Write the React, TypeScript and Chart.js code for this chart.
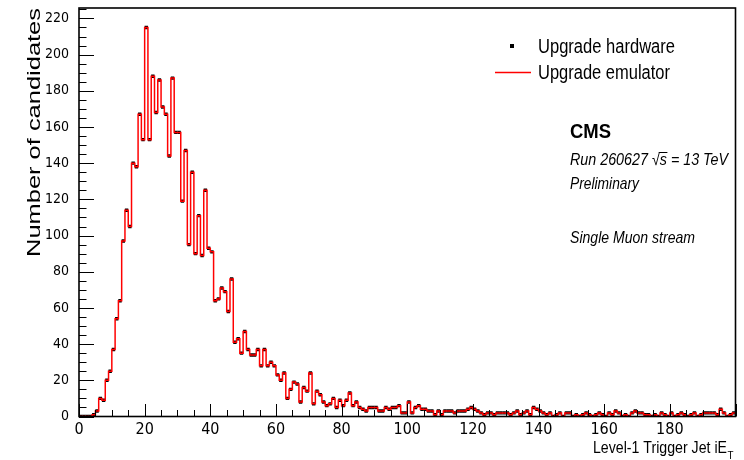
import React, { useEffect, useRef } from 'react';
import { Chart, registerables } from 'chart.js';

Chart.register(...registerables);

// Histogram binning: 200 bins of width 1 from 0 to 200 (Level-1 Trigger Jet iE_T)
const binStart = 0;
const binWidth = 1;

// Upgrade hardware counts per bin (bins 0..199)
const hardwareCounts: number[] = [
  0, 0, 0, 0, 1, 3, 10, 9, 20, 25, 37, 54, 64, 97, 114, 105, 140, 138, 167, 153,
  215, 153, 188, 168, 186, 171, 167, 144, 187, 157, 157, 119, 147, 95, 135, 90, 111, 89, 125, 93,
  91, 64, 65, 71, 69, 58, 76, 41, 43, 35, 47, 37, 34, 34, 37, 28, 37, 28, 30, 28,
  23, 20, 24, 10, 15, 19, 18, 8, 16, 14, 24, 7, 14, 12, 8, 6, 7, 10, 5, 9,
  6, 9, 13, 6, 8, 5, 4, 3, 5, 5, 5, 3, 3, 5, 4, 5, 5, 6, 2, 2,
  8, 2, 5, 6, 4, 4, 3, 3, 1, 3, 1, 3, 3, 3, 2, 3, 3, 3, 4, 5,
  4, 3, 2, 1, 2, 2, 1, 2, 2, 2, 2, 1, 2, 3, 1, 2, 3, 1, 5, 4,
  3, 2, 1, 2, 0, 1, 2, 0, 2, 2, 0, 1, 0, 1, 2, 1, 0, 1, 2, 1,
  0, 2, 1, 3, 2, 0, 1, 0, 2, 3, 2, 2, 1, 1, 0, 1, 0, 2, 1, 0,
  2, 0, 1, 2, 1, 0, 1, 2, 0, 1, 2, 2, 2, 2, 1, 4, 2, 0, 1, 2,
];

// Upgrade emulator counts per bin (agree bin-by-bin with the hardware)
const emulatorCounts: number[] = [
  0, 0, 0, 0, 1, 3, 10, 9, 20, 25, 37, 54, 64, 97, 114, 105, 140, 138, 167, 153,
  215, 153, 188, 168, 186, 171, 167, 144, 187, 157, 157, 119, 147, 95, 135, 90, 111, 89, 125, 93,
  91, 64, 65, 71, 69, 58, 76, 41, 43, 35, 47, 37, 34, 34, 37, 28, 37, 28, 30, 28,
  23, 20, 24, 10, 15, 19, 18, 8, 16, 14, 24, 7, 14, 12, 8, 6, 7, 10, 5, 9,
  6, 9, 13, 6, 8, 5, 4, 3, 5, 5, 5, 3, 3, 5, 4, 5, 5, 6, 2, 2,
  8, 2, 5, 6, 4, 4, 3, 3, 1, 3, 1, 3, 3, 3, 2, 3, 3, 3, 4, 5,
  4, 3, 2, 1, 2, 2, 1, 2, 2, 2, 2, 1, 2, 3, 1, 2, 3, 1, 5, 4,
  3, 2, 1, 2, 0, 1, 2, 0, 2, 2, 0, 1, 0, 1, 2, 1, 0, 1, 2, 1,
  0, 2, 1, 3, 2, 0, 1, 0, 2, 3, 2, 2, 1, 1, 0, 1, 0, 2, 1, 0,
  2, 0, 1, 2, 1, 0, 1, 2, 0, 1, 2, 2, 2, 2, 1, 4, 2, 0, 1, 2,
];

const xTickValues = [0, 20, 40, 60, 80, 100, 120, 140, 160, 180];
const yTickValues = [0, 20, 40, 60, 80, 100, 120, 140, 160, 180, 200, 220];
const xMin = 0;
const xMax = 200;
const yMin = 0;
const yMax = 225.75;
const xMinorStep = 5;
const xMajorStep = 20;
const yMinorStep = 5;
const yMajorStep = 20;

const FONT = "'Liberation Sans', Arial, Helvetica, sans-serif";
const NARROW = "'Liberation Sans Narrow', 'DejaVu Sans Condensed', 'Liberation Sans', Arial, sans-serif";

function drawFitted(
  ctx: CanvasRenderingContext2D,
  text: string,
  x: number,
  y: number,
  font: string,
  width: number,
  rotate = 0
) {
  ctx.save();
  ctx.translate(x, y);
  if (rotate) ctx.rotate(rotate);
  ctx.font = font;
  ctx.textAlign = 'left';
  ctx.textBaseline = 'alphabetic';
  const w = ctx.measureText(text).width;
  const k = width / w;
  ctx.scale(k, 1);
  ctx.fillStyle = '#000';
  ctx.fillText(text, 0, 0);
  ctx.restore();
  return k;
}

const decorPlugin = {
  id: 'rootDecor',
  afterDraw(chart: any) {
    const { ctx, chartArea: a, scales } = chart;
    const xs = scales.x;
    const ys = scales.y;
    ctx.save();
    // inward ticks
    ctx.strokeStyle = '#000';
    ctx.lineWidth = 1;
    ctx.beginPath();
    for (let v = yMin; v <= yMax; v += yMinorStep) {
      const p = Math.round(ys.getPixelForValue(v)) + 0.5;
      const len = v % yMajorStep === 0 ? 15 : 7.5;
      ctx.moveTo(a.left, p);
      ctx.lineTo(a.left + len, p);
    }
    for (let v = xMin; v <= xMax; v += xMinorStep) {
      const p = Math.round(xs.getPixelForValue(v)) + 0.5;
      const len = v % xMajorStep === 0 ? 12.5 : 6.5;
      ctx.moveTo(p, a.bottom);
      ctx.lineTo(p, a.bottom - len);
    }
    ctx.stroke();
    // frame
    ctx.lineWidth = 1.6;
    ctx.strokeRect(a.left, a.top, a.right - a.left, a.bottom - a.top);

    // axis titles
    drawFitted(ctx, 'Number of candidates', 40, 257, `19px ${FONT}`, 249, -Math.PI / 2);
    drawFitted(ctx, 'Level-1 Trigger Jet iE', 593, 452.5, `17px ${FONT}`, 134);
    drawFitted(ctx, 'T', 727.5, 459, `10px ${FONT}`, 6);

    // legend
    ctx.fillStyle = '#000';
    ctx.fillRect(510, 44, 4, 4);
    drawFitted(ctx, 'Upgrade hardware', 538, 53, `19.5px ${FONT}`, 137);
    ctx.strokeStyle = '#ff0000';
    ctx.lineWidth = 1.5;
    ctx.beginPath();
    ctx.moveTo(495, 72.5);
    ctx.lineTo(531, 72.5);
    ctx.stroke();
    drawFitted(ctx, 'Upgrade emulator', 538, 78.5, `19.5px ${FONT}`, 132);

    // CMS labels
    drawFitted(ctx, 'CMS', 570, 138, `bold 21px ${FONT}`, 41);
    const runFont = `italic 16.5px ${FONT}`;
    const runText = 'Run 260627 \u221As = 13 TeV';
    const k = drawFitted(ctx, runText, 570, 165, runFont, 158);
    ctx.font = runFont;
    const x1 = 570 + k * ctx.measureText('Run 260627 \u221A').width - 1;
    const x2 = 570 + k * ctx.measureText('Run 260627 \u221As').width + 0.5;
    ctx.strokeStyle = '#000';
    ctx.lineWidth = 1;
    ctx.beginPath();
    ctx.moveTo(x1, 152.5);
    ctx.lineTo(x2, 152.5);
    ctx.stroke();
    drawFitted(ctx, 'Preliminary', 570, 188.5, runFont, 69);
    drawFitted(ctx, 'Single Muon stream', 570, 243, runFont, 125);
    ctx.restore();
  },
};

export default function App() {
  const ref = useRef<HTMLCanvasElement>(null);
  useEffect(() => {
    document.body.style.margin = '0';
    const canvas = ref.current;
    if (!canvas) return;

    const emulatorStep = emulatorCounts.map((v, i) => ({ x: binStart + i * binWidth, y: v }));
    emulatorStep.push({
      x: binStart + emulatorCounts.length * binWidth,
      y: emulatorCounts[emulatorCounts.length - 1],
    });
    const hardwarePoints = hardwareCounts.map((v, i) => ({
      x: binStart + (i + 0.5) * binWidth,
      y: v,
    }));

    const chart = new Chart(canvas, {
      type: 'scatter',
      data: {
        datasets: [
          {
            type: 'line',
            label: 'Upgrade emulator',
            data: emulatorStep,
            stepped: 'before',
            borderColor: '#ff0000',
            borderWidth: 1.5,
            pointRadius: 0,
            fill: false,
            tension: 0,
          } as any,
          {
            type: 'scatter',
            label: 'Upgrade hardware',
            data: hardwarePoints,
            pointStyle: 'rect',
            pointRadius: 2.4,
            pointBackgroundColor: '#000',
            pointBorderWidth: 0,
            borderWidth: 0,
            showLine: false,
          } as any,
        ],
      },
      options: {
        animation: false,
        responsive: false,
        maintainAspectRatio: false,
        layout: { padding: { left: 0, right: 8.5, top: 8, bottom: 0 } },
        plugins: {
          legend: { display: false },
          tooltip: { enabled: false },
          title: { display: false },
        },
        scales: {
          x: {
            type: 'linear',
            min: xMin,
            max: xMax,
            grid: { display: false, drawTicks: false },
            border: { display: false },
            afterBuildTicks: (s: any) => {
              s.ticks = xTickValues.map((v) => ({ value: v }));
            },
            afterFit: (s: any) => {
              s.height = 43.5;
              s.paddingLeft = 0;
              s.paddingRight = 0;
            },
            ticks: {
              font: { family: NARROW, size: 16 },
              color: '#000',
              padding: 3.5,
              maxRotation: 0,
              autoSkip: false,
            },
          },
          y: {
            type: 'linear',
            min: yMin,
            max: yMax,
            grid: { display: false, drawTicks: false },
            border: { display: false },
            afterBuildTicks: (s: any) => {
              s.ticks = yTickValues.map((v) => ({ value: v }));
            },
            afterFit: (s: any) => {
              s.width = 79;
              s.paddingTop = 0;
              s.paddingBottom = 0;
            },
            ticks: {
              font: { family: NARROW, size: 14 },
              color: '#000',
              padding: 10,
              autoSkip: false,
            },
          },
        },
      } as any,
      plugins: [decorPlugin],
    });
    return () => chart.destroy();
  }, []);

  return (
    <div style={{ width: 744, height: 460, position: 'relative' }}>
      <canvas
        ref={ref}
        width={744}
        height={460}
        style={{ display: 'block', width: '744px', height: '460px' }}
      />
    </div>
  );
}
